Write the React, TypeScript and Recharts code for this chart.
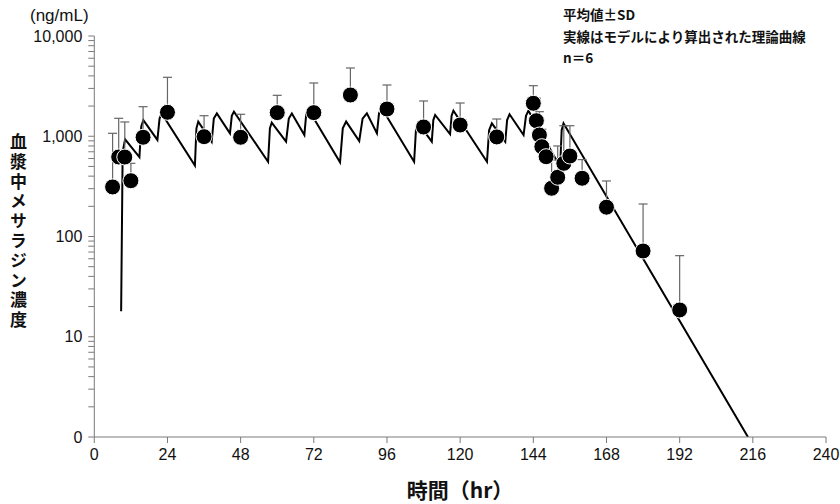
import React from "react";
import { ComposedChart, Line, Scatter, XAxis, YAxis, ErrorBar } from "recharts";

// Model (theoretical) curve vertices
const modelTime = [
  8.8, 9.3, 10.1, 14.8, 15.4, 16.1, 20.7, 21.4, 22.1,
  33.0, 33.5, 34.1, 38.5, 39.2, 40.2, 44.5, 45.1, 45.8,
  57.0, 57.6, 58.2, 62.9, 63.8, 64.8, 68.9, 69.5, 70.2,
  80.6, 81.5, 82.6, 86.9, 88.0, 89.4, 92.7, 93.4, 94.3,
  104.9, 105.5, 106.3, 110.7, 111.2, 111.8, 116.7, 117.2, 117.8,
  128.8, 129.5, 130.4, 134.8, 135.4, 136.2, 140.8, 141.6, 142.4,
  152.8, 153.3, 153.9, 214.4,
];
const modelConc = [
  18, 700, 930, 620, 1250, 1450, 920, 1500, 1690,
  510, 1200, 1400, 880, 1500, 1690, 1070, 1600, 1760,
  557, 1200, 1365, 883, 1500, 1690, 1030, 1650, 1860,
  550, 1200, 1400, 897, 1500, 1690, 1070, 1700, 1900,
  557, 1150, 1346, 883, 1450, 1630, 1052, 1600, 1800,
  557, 1150, 1346, 883, 1450, 1656, 1029, 1600, 1800,
  497, 1150, 1346, 1,
];

// Observed mean and mean+SD
const obsTime = [6, 8, 10, 12, 16, 24, 36, 48, 60, 72, 84, 96, 108, 120, 132, 144, 145, 146, 146.8, 148.2, 150, 152, 154, 156, 160, 168, 180, 192];
const obsMean = [312, 621, 620, 360, 977, 1734, 990, 977, 1720, 1720, 2580, 1870, 1237, 1295, 984, 2133, 1429, 1029, 787, 625, 303, 390, 537, 635, 381, 196, 71.7, 18.5];
const obsUpper = [1070, 1510, 1388, 537, 1972, 3873, 1603, 1656, 2560, 3398, 4796, 3246, 2248, 2146, 1486, 3193, 2393, 1758, 1173, 780, 580, 800, 1274, 1274, 585, 358, 211, 64.4];

const xTicks = [0, 24, 48, 72, 96, 120, 144, 168, 192, 216, 240];
const yMajor = [1, 10, 100, 1000, 10000];
const yMajorLabels = ["0", "10", "100", "1,000", "10,000"];
const yTicks: number[] = [];
[1, 10, 100, 1000].forEach((d) => {
  for (let k = 1; k <= 9; k++) yTicks.push(d * k);
});
yTicks.push(10000);

const modelData = modelTime.map((t, i) => ({ x: t, y: modelConc[i] }));
const obsData = obsTime.map((t, i) => ({ x: t, y: obsMean[i], err: [0, obsUpper[i] - obsMean[i]] }));

const axisColor = "#7a7a7a";
const tickFont = { fontFamily: "'Liberation Sans', Arial, sans-serif", fontSize: 16, fill: "#111" };

const fmtY = (v: number) => {
  const idx = yMajor.indexOf(v);
  return idx >= 0 ? yMajorLabels[idx] : "";
};

const Dot = (props: any) => {
  if (props.cx == null || props.cy == null) return null;
  return <circle cx={props.cx} cy={props.cy} r={8} fill="#000" stroke="#fff" strokeWidth={1} />;
};
const NoDot = () => null;

export default function App() {
  return (
    <div style={{ position: "absolute", left: 0, top: 0, width: 840, height: 504, background: "#fff" }}>
      <ComposedChart width={840} height={504} margin={{ top: 36, right: 14, bottom: 37, left: 0 }}>
        <XAxis
          type="number"
          dataKey="x"
          domain={[0, 240]}
          ticks={xTicks}
          interval={0}
          allowDataOverflow
          stroke={axisColor}
          tickSize={6}
          tickMargin={6}
          tick={tickFont}
          height={30}
        />
        <YAxis
          type="number"
          dataKey="y"
          scale="log"
          domain={[1, 10000]}
          ticks={yTicks}
          interval={0}
          allowDataOverflow
          stroke={axisColor}
          tickSize={6}
          tickMargin={6}
          tick={tickFont}
          tickFormatter={fmtY}
          width={94.3}
        />
        <Line
          data={modelData}
          dataKey="y"
          type="linear"
          stroke="#000"
          strokeWidth={2}
          dot={false}
          activeDot={false}
          isAnimationActive={false}
        />
        <Scatter data={obsData} dataKey="y" shape={NoDot} isAnimationActive={false}>
          <ErrorBar dataKey="err" direction="y" width={4.5} stroke="#666" strokeWidth={1.2} isAnimationActive={false} />
        </Scatter>
        <Scatter data={obsData} dataKey="y" shape={Dot} isAnimationActive={false} />
      </ComposedChart>

      <div style={{ position: "absolute", left: 30, top: 6, fontFamily: "'Liberation Sans', Arial, sans-serif", fontSize: 17, color: "#111" }}>
        (ng/mL)
      </div>

      <div
        style={{
          position: "absolute",
          left: 563,
          top: 4,
          fontFamily: "'Noto Sans CJK JP', sans-serif",
          fontWeight: 700,
          fontSize: 13.5,
          lineHeight: "21.5px",
          color: "#111",
          whiteSpace: "nowrap",
        }}
      >
        <div>平均値±SD</div>
        <div>実線はモデルにより算出された理論曲線</div>
        <div>n＝6</div>
      </div>

      <div
        style={{
          position: "absolute",
          left: 10,
          top: 133,
          writingMode: "vertical-rl",
          textOrientation: "upright",
          fontFamily: "'Noto Sans CJK JP', sans-serif",
          fontWeight: 700,
          fontSize: 17,
          lineHeight: 1,
          letterSpacing: 2.8,
          color: "#111",
        }}
      >
        血漿中メサラジン濃度
      </div>

      <div
        style={{
          position: "absolute",
          left: 340,
          top: 477,
          width: 240,
          textAlign: "center",
          fontFamily: "'Noto Sans CJK JP', sans-serif",
          fontWeight: 700,
          fontSize: 21,
          lineHeight: "24px",
          color: "#111",
        }}
      >
        時間（hr）
      </div>
    </div>
  );
}
